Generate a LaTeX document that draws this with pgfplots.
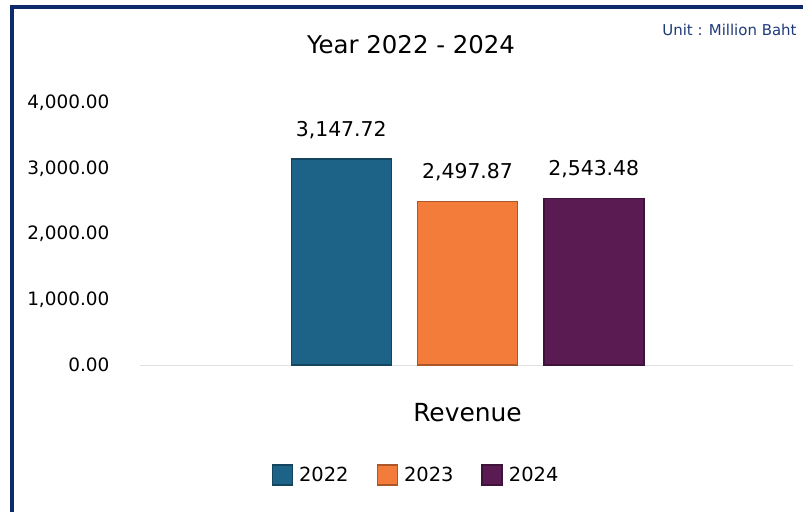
\documentclass[border=0pt]{standalone}
\usepackage{pgfplots}
\pgfplotsset{compat=1.18}
\usepackage{fontspec}
\setmainfont{DejaVu Sans}

\definecolor{c22}{HTML}{1D6387}
\definecolor{c23}{HTML}{F47C3A}
\definecolor{c24}{HTML}{5A1B52}
\definecolor{navy}{HTML}{0D2A6B}
\definecolor{unitblue}{HTML}{1F3A7A}

\begin{document}
\begin{tikzpicture}
% page frame: image px -> bp, axis origin at image (140,365)
\useasboundingbox[fill=white] (-140bp,-147bp) rectangle (663bp,365bp);
\fill[navy] (-130bp,-147bp) rectangle (-126bp,360bp);
\fill[navy] (-130bp,356bp) rectangle (663bp,360bp);

\begin{axis}[
    at={(0,0)}, anchor=south west,
    scale only axis,
    width=653bp, height=262bp,
    ymin=0, ymax=4000,
    xmin=-0.594, xmax=4.578,
    ybar, bar width=100bp,
    axis x line=bottom, axis y line=left,
    x axis line style={draw=black!12, line width=1bp, -},
    y axis line style={draw=none},
    ytick={0,1000,2000,3000,4000},
    ytick style={draw=none}, xtick style={draw=none},
    xtick={2}, xticklabels={Revenue},
    xticklabel style={font=\fontsize{25}{28}\selectfont, yshift=-33bp},
    yticklabel style={font=\fontsize{18.5}{22}\selectfont, xshift=-25bp,
        /pgf/number format/.cd, fixed, zerofill, precision=2, 1000 sep={,}, assume math mode=true},
    nodes near coords={\pgfmathprintnumber[fixed,zerofill,precision=2,1000 sep={,},assume math mode=true]{\pgfplotspointmeta}},
    nodes near coords style={font=\fontsize{20.5}{24}\selectfont, anchor=south, yshift=16bp},
    legend image code/.code={\draw[#1] (0bp,-10bp) rectangle (20bp,10bp);},
    legend columns=-1,
    legend style={draw=none, fill=none, font=\fontsize{19.5}{22}\selectfont,
        at={(axis description cs:0.4227,-0.419)}, anchor=center,
        /tikz/every even column/.append style={column sep=26bp},
        /tikz/every odd column/.append style={column sep=4bp}},
    clip=false,
]
\addplot[fill=c22, draw=c22!70!black, line width=1.5bp, bar shift=0pt] coordinates {(1,3147.72)};
\addlegendentry{2022}
\addplot[fill=c23, draw=c23!70!black, line width=1.5bp, bar shift=0pt] coordinates {(2,2497.87)};
\addlegendentry{2023}
\addplot[fill=c24, draw=c24!70!black, line width=1.5bp, bar shift=0pt] coordinates {(3,2543.48)};
\addlegendentry{2024}
\end{axis}

\node[font=\fontsize{24.5}{28}\selectfont] at (271bp,320bp) {Year 2022 - 2024};
\node[font=\fontsize{15}{18}\selectfont, text=unitblue, anchor=east] at (660bp,335bp) {Unit : Million Baht};
\end{tikzpicture}
\end{document}
